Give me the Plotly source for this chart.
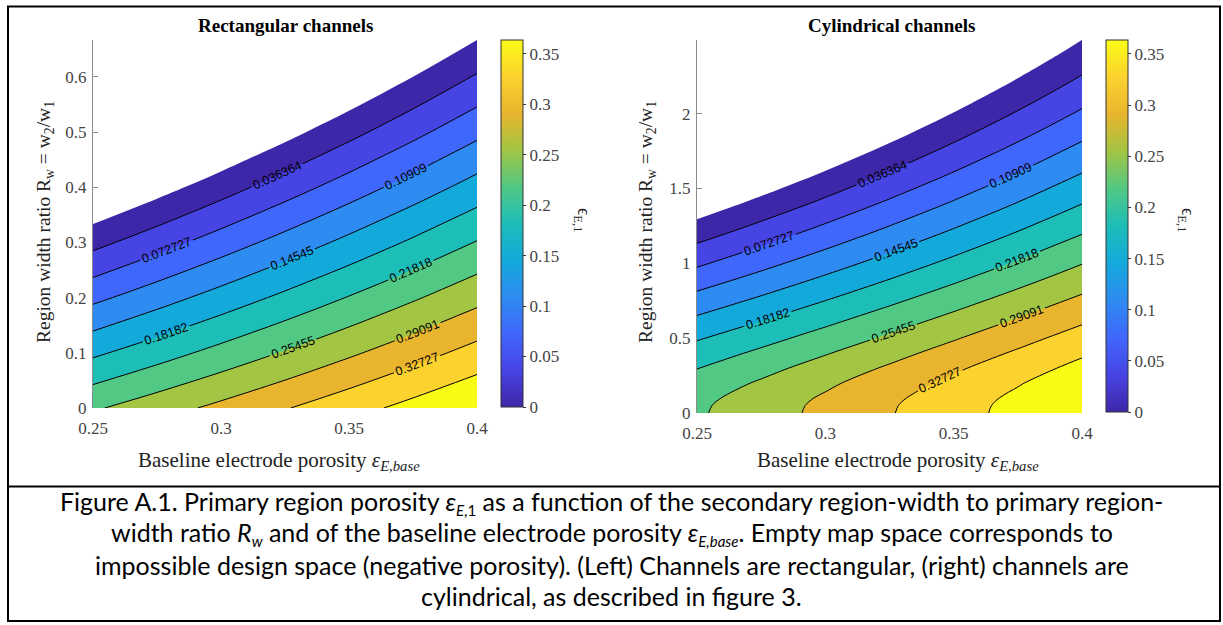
import plotly.graph_objects as go

# ---------------- data ----------------
# baseline electrode porosity (x grid, shared)
eps_base = [0.25, 0.275, 0.3, 0.325, 0.35, 0.375, 0.4]

# rectangular channels: region width ratio grid and primary-region porosity
rw_rect = [0.0, 0.1, 0.2, 0.3, 0.4, 0.5, 0.6, 0.7]
z_rect = [
    [0.25, 0.275, 0.3, 0.325, 0.35, 0.375, 0.4],
    [0.175, 0.2025, 0.23, 0.2575, 0.285, 0.3125, 0.34],
    [0.1, 0.13, 0.16, 0.19, 0.22, 0.25, 0.28],
    [0.025, 0.0575, 0.09, 0.1225, 0.155, 0.1875, 0.22],
    [-0.05, -0.015, 0.02, 0.055, 0.09, 0.125, 0.16],
    [-0.125, -0.0875, -0.05, -0.0125, 0.025, 0.0625, 0.1],
    [-0.2, -0.16, -0.12, -0.08, -0.04, 0.0, 0.04],
    [-0.275, -0.2325, -0.19, -0.1475, -0.105, -0.0625, -0.02],
]

# cylindrical channels
rw_cyl = [0.0, 0.05, 0.1, 0.2, 0.3, 0.4, 0.5, 0.6, 0.7, 0.8, 0.9, 1.0,
          1.2, 1.4, 1.6, 1.8, 2.0, 2.2, 2.4, 2.6]
z_cyl = [
    [0.25, 0.275, 0.3, 0.325, 0.35, 0.375, 0.4],
    [0.24866, 0.27371, 0.29875, 0.32380, 0.34884, 0.37389, 0.39893],
    [0.24510, 0.27026, 0.29543, 0.32059, 0.34575, 0.37092, 0.39608],
    [0.23327, 0.25883, 0.28439, 0.30994, 0.33550, 0.36106, 0.38662],
    [0.21726, 0.24335, 0.26944, 0.29554, 0.32163, 0.34772, 0.37381],
    [0.19862, 0.22533, 0.25205, 0.27876, 0.30547, 0.33218, 0.35890],
    [0.17829, 0.20568, 0.23307, 0.26046, 0.28785, 0.31524, 0.34263],
    [0.15688, 0.18498, 0.21309, 0.24119, 0.26930, 0.29740, 0.32550],
    [0.13478, 0.16362, 0.19246, 0.22131, 0.25015, 0.27899, 0.30783],
    [0.11228, 0.14187, 0.17146, 0.20105, 0.23064, 0.26023, 0.28982],
    [0.08956, 0.11991, 0.15025, 0.18060, 0.21095, 0.24130, 0.27165],
    [0.06676, 0.09787, 0.12897, 0.16008, 0.19119, 0.22230, 0.25341],
    [0.02131, 0.05393, 0.08656, 0.11918, 0.15180, 0.18442, 0.21705],
    [-0.02355, 0.01057, 0.04469, 0.07881, 0.11293, 0.14705, 0.18116],
    [-0.06750, -0.03192, 0.00366, 0.03925, 0.07483, 0.11042, 0.14600],
    [-0.11041, -0.07340, -0.03638, 0.00063, 0.03764, 0.07466, 0.11167],
    [-0.15219, -0.11378, -0.07538, -0.03697, 0.00144, 0.03984, 0.07825],
    [-0.19279, -0.15303, -0.11327, -0.07351, -0.03375, 0.00601, 0.04577],
    [-0.23222, -0.19114, -0.15007, -0.10900, -0.06792, -0.02685, 0.01423],
    [-0.27047, -0.22812, -0.18577, -0.14342, -0.10108, -0.05873, -0.01638],
]

# contour levels
level_start = 0.0
level_step = 0.036363636
level_end = 0.36364

# tick labels
x_ticks = [0.25, 0.3, 0.35, 0.4]
x_ticktext = ["0.25", "0.3", "0.35", "0.4"]
y_ticks_rect = [0, 0.1, 0.2, 0.3, 0.4, 0.5, 0.6]
y_ticktext_rect = ["0", "0.1", "0.2", "0.3", "0.4", "0.5", "0.6"]
y_ticks_cyl = [0, 0.5, 1, 1.5, 2]
y_ticktext_cyl = ["0", "0.5", "1", "1.5", "2"]
cb_ticks = [0, 0.05, 0.1, 0.15, 0.2, 0.25, 0.3, 0.35]
cb_ticktext = ["0", "0.05", "0.1", "0.15", "0.2", "0.25", "0.3", "0.35"]

titles = ["Rectangular channels", "Cylindrical channels"]
caption_lines = [
    "Figure A.1. Primary region porosity <i>ε</i><sub><span style='font-size:15px'><i>E</i>,1</span></sub> as a function of the secondary region-width to primary region-",
    "width ratio <i>R<sub><span style='font-size:15px'>w</span></sub></i> and of the baseline electrode porosity <i>ε<sub><span style='font-size:15px'>E,base</span></sub></i>. Empty map space corresponds to",
    "impossible design space (negative porosity). (Left) Channels are rectangular, (right) channels are",
    "cylindrical, as described in figure 3.",
]

# ---------------- styling ----------------
W, H = 1223, 625
SERIF = "Liberation Serif"
SANS = "Liberation Sans"
CAP = "Lato"

# parula samples at t = 0, 0.1, ..., 1
parula = ["#3E26A8", "#4744E4", "#4067FB", "#2E8BF1", "#14A9DB", "#1DBDB8",
          "#51C883", "#A2C544", "#E9B52E", "#FCD22F", "#F9FB15"]


def px(x):
    return x / W


def py(y):
    return 1 - y / H


# stepped scale for the filled bands (below zero transparent)
n = len(parula)
fill_scale = [[0.0, "rgba(255,255,255,0)"]]
for k, c in enumerate(parula):
    fill_scale.append([(k + 1) / n, c])
cont_scale = [[k / (n - 1), c] for k, c in enumerate(parula)]

panels = [
    dict(x=eps_base, y=rw_rect, z=z_rect, xa="x", ya="y",
         cb_x=501, cb_top=40, cb_bot=407),
    dict(x=eps_base, y=rw_cyl, z=z_cyl, xa="x2", ya="y2",
         cb_x=1106, cb_top=40, cb_bot=412),
]

fig = go.Figure()
for p in panels:
    fig.add_trace(go.Contour(
        x=p["x"], y=p["y"], z=p["z"], xaxis=p["xa"], yaxis=p["ya"],
        autocontour=False,
        contours=dict(start=level_start, end=level_end, size=level_step,
                      coloring="fill", showlines=False),
        colorscale=fill_scale, showscale=False,
        line=dict(width=0, smoothing=1), hoverinfo="skip",
    ))
    fig.add_trace(go.Contour(
        x=p["x"], y=p["y"], z=p["z"], xaxis=p["xa"], yaxis=p["ya"],
        autocontour=False,
        contours=dict(start=level_step, end=level_end, size=level_step,
                      coloring="none", showlabels=True, labelformat=".5g",
                      labelfont=dict(family=SANS, size=12.5, color="black")),
        line=dict(color="black", width=1, smoothing=1),
        showscale=False, hoverinfo="skip",
    ))
    fig.add_trace(go.Scatter(
        x=[None], y=[None], xaxis=p["xa"], yaxis=p["ya"], mode="markers",
        showlegend=False, hoverinfo="skip",
        marker=dict(color=[0], cmin=0, cmax=level_end, colorscale=cont_scale,
                    showscale=True,
                    colorbar=dict(
                        thickness=22, thicknessmode="pixels",
                        len=(p["cb_bot"] - p["cb_top"]) / H, lenmode="fraction",
                        x=px(p["cb_x"]), xanchor="left", xpad=0,
                        y=py(p["cb_top"]), yanchor="top", ypad=0,
                        outlinewidth=1, outlinecolor="#333333",
                        ticks="outside", ticklen=3, tickcolor="#333333",
                        tickvals=cb_ticks, ticktext=cb_ticktext,
                        tickfont=dict(family=SERIF, size=17, color="#444444"),
                    )),
    ))

axis_common = dict(showgrid=False, zeroline=False,
                   tickfont=dict(family=SERIF, size=17, color="#444444"))
xcommon = dict(axis_common, range=[0.25, 0.4], tickvals=x_ticks,
               ticktext=x_ticktext, showline=False, ticks="",
               ticklabelstandoff=8)
ycommon = dict(axis_common, showline=True, linecolor="#8a8a8a", linewidth=1,
               ticks="inside", ticklen=5, tickcolor="#8a8a8a",
               layer="below traces", ticklabelstandoff=2)

fig.update_layout(
    width=W, height=H, margin=dict(l=0, r=0, t=0, b=0, autoexpand=False),
    paper_bgcolor="white", plot_bgcolor="white", showlegend=False,
    xaxis=dict(xcommon, domain=[px(93), px(477)], anchor="y"),
    yaxis=dict(ycommon, domain=[py(408), py(40)], range=[0, 0.6667],
               tickvals=y_ticks_rect, ticktext=y_ticktext_rect, anchor="x"),
    xaxis2=dict(xcommon, domain=[px(697), px(1082)], anchor="y2"),
    yaxis2=dict(ycommon, domain=[py(413), py(40)], range=[0, 2.4923],
                tickvals=y_ticks_cyl, ticktext=y_ticktext_cyl, anchor="x2"),
)

ann = []
# panel titles
for t, cx in zip(titles, [285, 891]):
    ann.append(dict(text="<b>" + t + "</b>", x=px(cx), y=py(26),
                    font=dict(family=SERIF, size=19, color="black")))
# y axis titles
for cx in [45, 647]:
    ann.append(dict(text="Region width ratio R<sub>w</sub> = w<sub>2</sub>/w<sub>1</sub>",
                    x=px(cx), y=py(222), textangle=-90,
                    font=dict(family=SERIF, size=19.5, color="#222222")))
# x axis titles
for cx in [279, 898]:
    ann.append(dict(text="Baseline electrode porosity <i>ε<sub>E,base</sub></i>",
                    x=px(cx), y=py(461),
                    font=dict(family=SERIF, size=21, color="#222222")))
# colorbar titles
for cx in [583, 1187]:
    ann.append(dict(text="ϵ<sub>E,1</sub>", x=px(cx), y=py(220), textangle=90,
                    font=dict(family=SERIF, size=18, color="#222222")))
# caption
for line, cy in zip(caption_lines, [502, 533, 565, 596]):
    ann.append(dict(text=line, x=0.5, y=py(cy),
                    font=dict(family=CAP, size=25, color="black")))

for a in ann:
    a.update(xref="paper", yref="paper", showarrow=False,
             xanchor="center", yanchor="middle")
fig.update_layout(annotations=ann)

# frame and caption separator
fig.update_layout(shapes=[
    dict(type="rect", xref="paper", yref="paper",
         x0=px(8), x1=px(1220), y0=py(621), y1=py(6.5),
         line=dict(color="black", width=2), fillcolor="rgba(0,0,0,0)"),
    dict(type="line", xref="paper", yref="paper",
         x0=px(8), x1=px(1220), y0=py(486.5), y1=py(486.5),
         line=dict(color="black", width=2)),
])

fig.write_html("out.html")
